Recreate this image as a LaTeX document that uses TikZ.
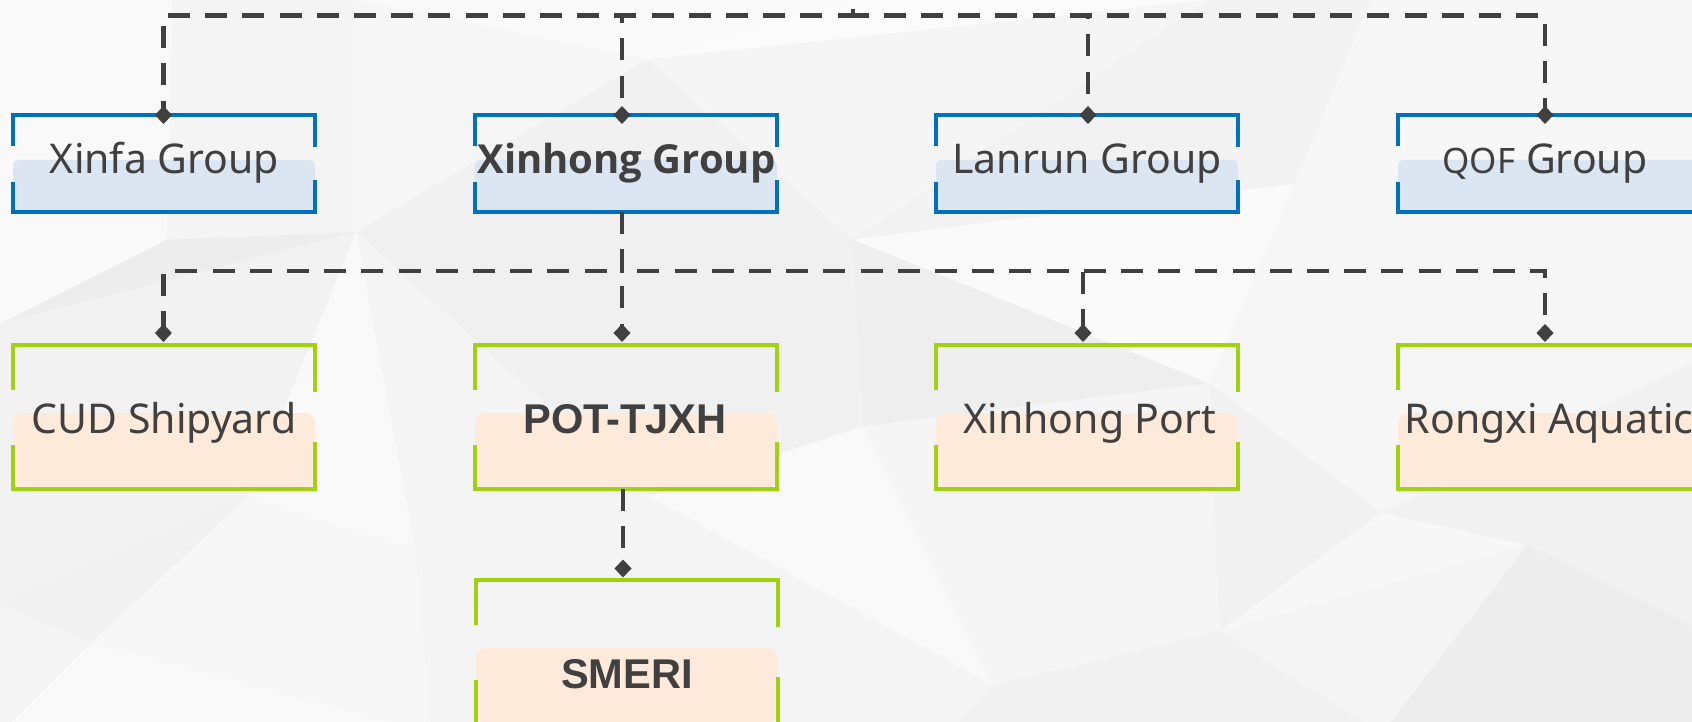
\documentclass[tikz,border=0pt]{standalone}
\usepackage{fontspec}
\setmainfont{Noto Sans}
\newfontfamily\osans{Open Sans}
\newfontfamily\arialfont{Liberation Sans}
\usetikzlibrary{arrows.meta}
\definecolor{txt}{HTML}{404040}
\definecolor{conn}{HTML}{404040}
\definecolor{bline}{HTML}{0070C0}
\definecolor{bfill}{HTML}{DCE6F2}
\definecolor{gline}{HTML}{A2D20E}
\definecolor{pfill}{HTML}{FDEADA}
\tikzset{
  frameone/.style={minimum width=151pt, minimum height=48.5pt, inner sep=0pt, outer sep=0pt},
  frametwo/.style={minimum width=151pt, minimum height=72pt, inner sep=0pt, outer sep=0pt},
  lab/.style={anchor=base, text=txt, inner sep=0pt, font=\fontsize{20.5pt}{24pt}\selectfont},
  labb/.style={lab, font=\osans\fontsize{20pt}{24pt}\selectfont\bfseries},
  laba/.style={lab, font=\arialfont\fontsize{20.8pt}{24pt}\selectfont\bfseries},
  dline/.style={draw=conn, line width=2.4pt, dash pattern=on 11pt off 7.6pt},
  diam/.style={-{Diamond[length=9pt,width=8.5pt]}},
  bbr/.style={draw=bline, line width=2.2pt},
  gbr/.style={draw=gline, line width=2pt},
}
\begin{document}
\begin{tikzpicture}[x=0.5pt,y=-0.5pt]
\useasboundingbox (0,0) rectangle (1692,722);
\clip (0,0) rectangle (1692,722);
\fill[black!4] (0,0) rectangle (1692,722);
% background low-poly
\begin{scope}[scale=1.0791]
\coordinate (p1) at (0,0); \coordinate (p2) at (160,0); \coordinate (p3) at (330,0);
\coordinate (p4) at (600,55); \coordinate (p5) at (790,0); \coordinate (p6) at (1120,0);
\coordinate (p7) at (1270,0); \coordinate (p8) at (1580,0); \coordinate (p9) at (0,300);
\coordinate (p10) at (155,222); \coordinate (p11) at (330,215); \coordinate (p12) at (790,222);
\coordinate (p13) at (1200,170); \coordinate (p14) at (1580,160); \coordinate (p15) at (385,510);
\coordinate (p16) at (230,460); \coordinate (p17) at (85,595); \coordinate (p18) at (0,560);
\coordinate (p19) at (800,395); \coordinate (p20) at (1120,355); \coordinate (p21) at (1280,475);
\coordinate (p22) at (1415,505); \coordinate (p23) at (1580,585); \coordinate (p24) at (1130,585);
\coordinate (p25) at (920,635); \coordinate (p26) at (0,680); \coordinate (p27) at (400,680);
\coordinate (p28) at (880,680); \coordinate (p29) at (1280,680); \coordinate (p30) at (1580,680);
\coordinate (p31) at (1580,330); \coordinate (p32) at (600,460);
\fill[black!2.5] (p1)--(p2)--(p10)--(p9)--cycle;
\fill[black!4.5] (p2)--(p3)--(p11)--(p10)--cycle;
\fill[black!3.5] (p3)--(p4)--(p11)--cycle;
\fill[black!2] (p3)--(p5)--(p4)--cycle;
\fill[black!1.5] (p4)--(p5)--(p6)--cycle;
\fill[black!4] (p4)--(p6)--(p12)--cycle;
\fill[black!5.5] (p4)--(p12)--(p11)--cycle;
\fill[black!5] (p6)--(p7)--(p13)--(p12)--cycle;
\fill[black!3] (p7)--(p8)--(p14)--(p13)--cycle;
\fill[black!7] (p9)--(p10)--(p11)--cycle;
\fill[black!5] (p9)--(p11)--(p16)--(p18)--cycle;
\fill[black!6] (p11)--(p12)--(p19)--(p32)--cycle;
\fill[black!4.5] (p11)--(p32)--(p15)--cycle;
\fill[black!2.5] (p11)--(p15)--(p16)--cycle;
\fill[black!2] (p12)--(p13)--(p20)--cycle;
\fill[black!6.5] (p12)--(p20)--(p19)--cycle;
\fill[black!3.5] (p13)--(p14)--(p31)--(p21)--(p20)--cycle;
\fill[black!5.5] (p20)--(p21)--(p24)--cycle;
\fill[black!4] (p19)--(p20)--(p24)--(p25)--cycle;
\fill[black!2.5] (p19)--(p25)--(p32)--cycle;
\fill[black!4.5] (p32)--(p25)--(p28)--(p27)--(p15)--cycle;
\fill[black!3] (p16)--(p15)--(p27)--(p17)--cycle;
\fill[black!5.5] (p18)--(p16)--(p17)--cycle;
\fill[black!4.5] (p18)--(p17)--(p26)--cycle;
\fill[black!2.5] (p17)--(p27)--(p26)--cycle;
\fill[black!3] (p21)--(p22)--(p24)--cycle;
\fill[black!5.5] (p21)--(p31)--(p23)--(p22)--cycle;
\fill[black!7] (p22)--(p23)--(p30)--(p29)--cycle;
\fill[black!4.5] (p24)--(p22)--(p29)--cycle;
\fill[black!5.5] (p25)--(p24)--(p29)--(p28)--cycle;
\end{scope}
% frames
\node[frameone] (xinfa) at (164,163.5) {};
\node[frameone] (xinhong) at (626,163.5) {};
\node[frameone] (lanrun) at (1087,163.5) {};
\node[frameone] (qof) at (1549,163.5) {};
\node[frametwo] (cud) at (164,417) {};
\node[frametwo] (pot) at (626,417) {};
\node[frametwo] (xport) at (1087,417) {};
\node[frametwo] (rongxi) at (1549,417) {};
\node[frametwo] (smeri) at (626.5,652) {};
% fills and brackets
\foreach \n in {xinfa,xinhong,lanrun,qof}{
  \fill[bfill, rounded corners=2.5pt] (\n.south west) rectangle ([yshift=26pt]\n.south east);
  \draw[bbr] ([yshift=-15.5pt]\n.north west) -- (\n.north west) -- (\n.north east) -- ([yshift=-16pt]\n.north east);
  \draw[bbr] ([yshift=15pt]\n.south west) -- (\n.south west) -- (\n.south east) -- ([yshift=16pt]\n.south east);
}
\foreach \n in {cud,pot,xport,rongxi,smeri}{
  \fill[pfill, rounded corners=5pt] ([yshift=0.5pt]\n.south west) rectangle ([yshift=38pt]\n.south east);
  \draw[gbr] ([yshift=-22.5pt]\n.north west) -- (\n.north west) -- (\n.north east) -- ([yshift=-23.5pt]\n.north east);
  \draw[gbr] ([yshift=22pt]\n.south west) -- (\n.south west) -- (\n.south east) -- ([yshift=23.5pt]\n.south east);
}
% labels
\node[lab] (xinfa-t) at (164.5,174) {Xinfa Group};
\node[labb] (xinhong-t) at (626.5,173) {Xinhong Group};
\node[lab] (lanrun-t) at (1087,174) {Lanrun Group};
\node[lab] (qof-t) at (1545,173) {{\fontsize{17.5pt}{20pt}\selectfont QOF} Group};
\node[lab] (cud-t) at (164,433) {CUD Shipyard};
\node[laba] (pot-t) at (625,433.5) {POT-TJXH};
\node[lab] (xport-t) at (1090,433) {Xinhong Port};
\node[lab] (rongxi-t) at (1549,433) {Rongxi Aquatic};
\node[laba] (smeri-t) at (627,688) {SMERI};
% connectors top
\coordinate (stub) at (853,9);
\coordinate (topj) at (853,15.5);
\draw[dline, diam] (stub) -- (topj) -| ([xshift=-0.25pt,yshift=-4.5pt]xinfa.north);
\draw[dline, diam] (stub) -- (topj) -| ([xshift=-2pt,yshift=-4.5pt]xinhong.north);
\draw[dline, diam] (stub) -- (topj) -| ([xshift=0.5pt,yshift=-4.5pt]lanrun.north);
\draw[dline, diam] (stub) -- (topj) -| ([xshift=-2pt,yshift=-4.5pt]qof.north);
% connectors row 2
\coordinate (xhb) at ([xshift=-2pt]xinhong.south);
\coordinate (midj) at (622,271);
\draw[dline, diam] (xhb) -- (midj) -| ([xshift=-0.3pt,yshift=1.5pt]cud.north);
\draw[dline, diam] (xhb) -- ([xshift=-2pt,yshift=1.5pt]pot.north);
\draw[dline, diam] (xhb) -- (midj) -| ([xshift=-2pt,yshift=1.5pt]xport.north);
\draw[dline, diam] (xhb) -- (midj) -| ([xshift=-2pt,yshift=1.5pt]rongxi.north);
% row 3
\draw[dline, diam] ([xshift=-1.5pt]pot.south) -- ([xshift=-1.75pt,yshift=1.25pt]smeri.north);
\end{tikzpicture}
\end{document}
